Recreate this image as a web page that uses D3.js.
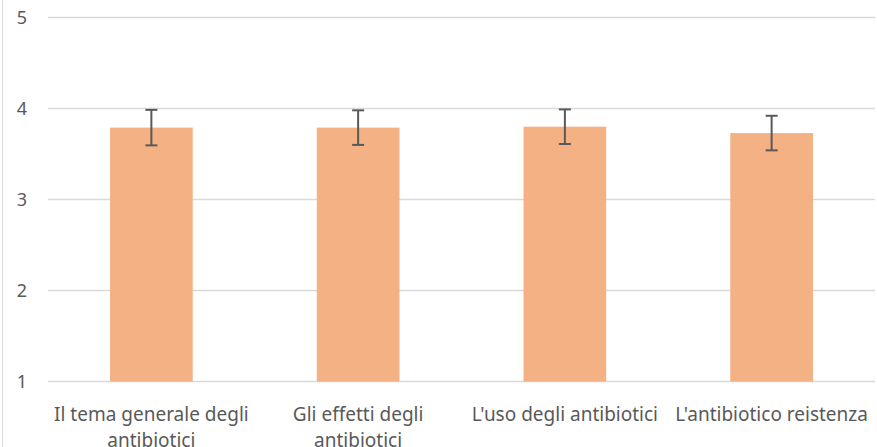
<!DOCTYPE html>
<html>
<head>
<meta charset="utf-8">
<script src="https://cdn.jsdelivr.net/npm/d3@7"></script>
<style>
  body { margin: 0; background: #fff; }
  svg { display: block; }
  text { font-family: "Noto Sans", "Liberation Sans", sans-serif; fill: #595959; }
</style>
</head>
<body>
<div id="chart"></div>
<script>
// data
var categories = ["Il tema generale degli antibiotici", "Gli effetti degli antibiotici", "L'uso degli antibiotici", "L'antibiotico reistenza"];
var means = [3.79, 3.79, 3.80, 3.73];
var errors = [0.195, 0.19, 0.19, 0.19];
var yTicks = [1, 2, 3, 4, 5];

var width = 877, height = 447;
var margin = {left: 48, right: 2, top: 17.5, bottom: 65.5};

var svg = d3.select("#chart").append("svg")
    .attr("width", width)
    .attr("height", height);

// chart area border on the left
svg.append("line")
    .attr("x1", 2.5).attr("x2", 2.5)
    .attr("y1", 0).attr("y2", height)
    .attr("stroke", "#d9d9d9")
    .attr("stroke-width", 1);

var x = d3.scaleBand()
    .domain(categories)
    .range([margin.left, width - margin.right])
    .paddingInner(0.6)
    .paddingOuter(0.3);

var y = d3.scaleLinear()
    .domain([1, 5])
    .range([height - margin.bottom, margin.top]);

// gridlines
svg.selectAll("line.grid").data(yTicks).enter().append("line")
    .attr("class", "grid")
    .attr("x1", margin.left).attr("x2", width - margin.right)
    .attr("y1", function (d) { return y(d); })
    .attr("y2", function (d) { return y(d); })
    .attr("stroke", "#d9d9d9")
    .attr("stroke-width", 1.5);

// y labels
svg.selectAll("text.ytick").data(yTicks).enter().append("text")
    .attr("class", "ytick")
    .attr("x", 22)
    .attr("y", function (d) { return y(d); })
    .attr("dy", "0.35em")
    .style("text-anchor", "middle")
    .style("font-size", "18px")
    .text(function (d) { return d; });

// bars
svg.selectAll("rect.bar").data(categories).enter().append("rect")
    .attr("class", "bar")
    .attr("x", function (d) { return x(d); })
    .attr("width", x.bandwidth())
    .attr("y", function (d, i) { return y(means[i]); })
    .attr("height", function (d, i) { return y(1) - y(means[i]); })
    .attr("fill", "#f4b183");

// error bars
var eb = svg.selectAll("g.err").data(categories).enter().append("g")
    .attr("class", "err")
    .attr("transform", function (d) { return "translate(" + (x(d) + x.bandwidth() / 2) + ",0)"; });
eb.append("line")
    .attr("x1", 0).attr("x2", 0)
    .attr("y1", function (d, i) { return y(means[i] + errors[i]); })
    .attr("y2", function (d, i) { return y(means[i] - errors[i]); })
    .attr("stroke", "#595959").attr("stroke-width", 2);
eb.append("line")
    .attr("x1", -6).attr("x2", 6)
    .attr("y1", function (d, i) { return y(means[i] + errors[i]); })
    .attr("y2", function (d, i) { return y(means[i] + errors[i]); })
    .attr("stroke", "#595959").attr("stroke-width", 2);
eb.append("line")
    .attr("x1", -6).attr("x2", 6)
    .attr("y1", function (d, i) { return y(means[i] - errors[i]); })
    .attr("y2", function (d, i) { return y(means[i] - errors[i]); })
    .attr("stroke", "#595959").attr("stroke-width", 2);

// category labels, wrapped
var labels = svg.selectAll("text.xlab").data(categories).enter().append("text")
    .attr("class", "xlab")
    .attr("x", function (d) { return x(d) + x.bandwidth() / 2; })
    .attr("y", 421)
    .style("text-anchor", "middle")
    .style("font-size", "19px");

labels.each(function (d) {
    var t = d3.select(this);
    var words = d.split(" ");
    var line = [];
    var tspan = t.append("tspan").attr("x", t.attr("x")).attr("dy", 0);
    words.forEach(function (w) {
        line.push(w);
        tspan.text(line.join(" "));
        if (tspan.node().getComputedTextLength() > x.step() && line.length > 1) {
            line.pop();
            tspan.text(line.join(" "));
            line = [w];
            tspan = t.append("tspan").attr("x", t.attr("x")).attr("dy", 26).text(w);
        }
    });
});
</script>
</body>
</html>
